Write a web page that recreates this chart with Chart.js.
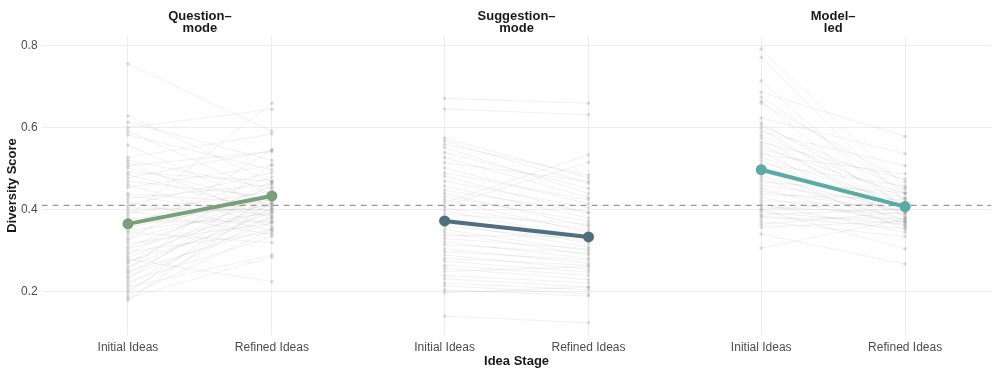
<!DOCTYPE html>
<html>
<head>
<meta charset="utf-8">
<script src="https://cdn.jsdelivr.net/npm/chart.js@4.4.1/dist/chart.umd.min.js"></script>
<style>
  html, body { margin: 0; padding: 0; background: #fff; }
  #wrap { width: 997px; height: 374px; }
</style>
</head>
<body>
<div id="wrap"><canvas id="myChart" width="997" height="374"></canvas></div>
<script>
// facets and x categories
const panels = ["Question–\nmode", "Suggestion–\nmode", "Model–\nled"];
const stages = ["Initial Ideas", "Refined Ideas"];
const yTicks = [0.2, 0.4, 0.6, 0.8];

// individual idea pairs per condition (initial, refined)
const qInitial = [0.756,0.629,0.614,0.601,0.592,0.583,0.558,0.528,0.521,0.515,0.508,0.502,0.492,0.486,0.478,0.470,0.462,0.455,0.440,0.435,0.428,0.420,0.412,0.405,0.398,0.392,0.385,0.378,0.372,0.365,0.358,0.350,0.345,0.338,0.330,0.325,0.318,0.310,0.305,0.298,0.292,0.285,0.280,0.275,0.270,0.262,0.255,0.250,0.245,0.238,0.232,0.225,0.218,0.212,0.205,0.198,0.190,0.185,0.180];
const qRefined = [0.592,0.468,0.521,0.645,0.438,0.498,0.405,0.585,0.452,0.378,0.542,0.420,0.470,0.395,0.545,0.432,0.360,0.508,0.415,0.385,0.462,0.350,0.490,0.400,0.340,0.445,0.660,0.410,0.372,0.480,0.425,0.392,0.320,0.455,0.415,0.548,0.368,0.438,0.400,0.345,0.470,0.412,0.225,0.380,0.445,0.395,0.512,0.355,0.428,0.370,0.465,0.335,0.405,0.290,0.385,0.440,0.352,0.285,0.420];

const sInitial = [0.672,0.646,0.575,0.568,0.560,0.552,0.540,0.528,0.515,0.502,0.490,0.482,0.470,0.458,0.448,0.440,0.432,0.425,0.418,0.410,0.405,0.398,0.390,0.382,0.375,0.368,0.360,0.352,0.345,0.338,0.330,0.322,0.315,0.305,0.298,0.290,0.282,0.275,0.265,0.258,0.250,0.240,0.232,0.222,0.215,0.205,0.198,0.141];
const sRefined = [0.660,0.632,0.478,0.465,0.485,0.440,0.452,0.430,0.470,0.415,0.425,0.392,0.405,0.380,0.395,0.360,0.372,0.345,0.534,0.516,0.352,0.330,0.365,0.318,0.340,0.310,0.325,0.300,0.290,0.335,0.305,0.282,0.295,0.270,0.278,0.255,0.265,0.248,0.240,0.230,0.262,0.222,0.212,0.205,0.195,0.190,0.212,0.125];

const mInitial = [0.792,0.772,0.715,0.687,0.675,0.665,0.660,0.624,0.612,0.605,0.598,0.590,0.582,0.575,0.565,0.558,0.550,0.542,0.535,0.528,0.520,0.512,0.505,0.498,0.490,0.482,0.475,0.468,0.460,0.452,0.445,0.438,0.430,0.422,0.415,0.408,0.402,0.395,0.388,0.380,0.372,0.365,0.358,0.341,0.307,0.400,0.385];
const mRefined = [0.455,0.420,0.395,0.579,0.440,0.380,0.468,0.537,0.410,0.450,0.392,0.508,0.428,0.370,0.475,0.400,0.440,0.362,0.488,0.415,0.385,0.458,0.405,0.352,0.430,0.395,0.375,0.442,0.412,0.360,0.398,0.425,0.370,0.408,0.345,0.390,0.418,0.365,0.402,0.380,0.335,0.395,0.372,0.268,0.378,0.305,0.355];

// condition means
const meanInitial = [0.366, 0.373, 0.498];
const meanRefined = [0.434, 0.334, 0.408];
const meanColors = ["#7a9f7b", "#4f6e7f", "#5aaaa6"];
const overallMean = 0.411;

// x positions: each facet is 2 categories wide, 0.6 expansion per side
const xPos = [0, 1, 2.2, 3.2, 4.4, 5.4];
const allPairs = [[qInitial, qRefined], [sInitial, sRefined], [mInitial, mRefined]];

const datasets = [];
allPairs.forEach(([ini, ref], p) => {
    ini.forEach((v, i) => {
        datasets.push({
            data: [{x: xPos[p*2], y: v}, {x: xPos[p*2+1], y: ref[i]}],
            borderColor: "rgba(140,140,140,0.21)",
            borderWidth: 0.6,
            pointRadius: 1.8,
            pointBackgroundColor: "rgba(150,150,150,0.32)",
            pointBorderWidth: 0,
            order: 3
        });
    });
});
datasets.push({
    data: [{x: -0.6, y: overallMean}, {x: 6.0, y: overallMean}],
    borderColor: "#999999",
    borderWidth: 1.2,
    borderDash: [6, 5],
    pointRadius: 0,
    order: 2
});
meanInitial.forEach((v, p) => {
    datasets.push({
        data: [{x: xPos[p*2], y: v}, {x: xPos[p*2+1], y: meanRefined[p]}],
        borderColor: meanColors[p],
        backgroundColor: meanColors[p],
        pointBackgroundColor: meanColors[p],
        borderWidth: 4,
        pointRadius: 5.5,
        pointBorderWidth: 0,
        order: 1
    });
});

const FONT = "'Liberation Sans', Arial, sans-serif";

// facet titles and axis titles
const labelsPlugin = {
    id: 'labels',
    afterDraw(chart) {
        const ctx = chart.ctx;
        const xs = chart.scales.x;
        const area = chart.chartArea;
        ctx.save();
        ctx.fillStyle = "#1a1a1a";
        ctx.font = "bold 13px " + FONT;
        ctx.textAlign = "center";
        ctx.textBaseline = "middle";
        panels.forEach((t, p) => {
            const cx = xs.getPixelForValue((xPos[p*2] + xPos[p*2+1]) / 2);
            t.split("\n").forEach((line, k) => ctx.fillText(line, cx, 16 + k * 12.5));
        });
        ctx.fillText("Idea Stage", (area.left + area.right) / 2, 361);
        ctx.translate(12, (area.top + area.bottom) / 2);
        ctx.rotate(-Math.PI / 2);
        ctx.fillText("Diversity Score", 0, 0);
        ctx.restore();
    }
};

new Chart(document.getElementById('myChart'), {
    type: 'line',
    data: { datasets },
    options: {
        responsive: false,
        animation: false,
        layout: { padding: { top: 36, right: 5, left: 0, bottom: 0 } },
        plugins: { legend: { display: false }, tooltip: { enabled: false } },
        scales: {
            x: {
                type: 'linear',
                min: -0.6,
                max: 6.0,
                afterBuildTicks: (s) => { s.ticks = xPos.map(v => ({ value: v })); },
                afterFit: (s) => { s.height = 39; },
                ticks: {
                    autoSkip: false,
                    maxRotation: 0,
                    padding: 5,
                    color: "#4d4d4d",
                    font: { family: FONT, size: 12 },
                    callback: (v, i) => stages[i % 2]
                },
                grid: { color: "#ededed", lineWidth: 1, drawTicks: false },
                border: { display: false }
            },
            y: {
                min: 0.095,
                max: 0.824,
                afterBuildTicks: (s) => { s.ticks = yTicks.map(v => ({ value: v })); },
                afterFit: (s) => { s.width = 41.6; },
                ticks: {
                    padding: 4,
                    color: "#4d4d4d",
                    font: { family: FONT, size: 12 },
                    callback: (v) => v.toFixed(1)
                },
                grid: { color: "#ededed", lineWidth: 1, drawTicks: false },
                border: { display: false }
            }
        }
    },
    plugins: [labelsPlugin]
});
</script>
</body>
</html>
